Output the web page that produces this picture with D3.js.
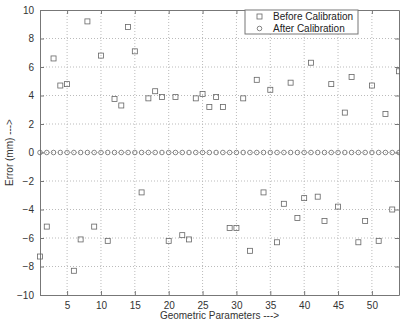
<!DOCTYPE html>
<html>
<head>
<meta charset="utf-8">
<script src="https://cdn.jsdelivr.net/npm/d3@7"></script>
<style>
  body { margin: 0; background: #fff; }
  text { font-family: Arial, "Liberation Sans", sans-serif; }
</style>
</head>
<body>
<div id="chart"></div>
<script>
// parameter index 1..54
var params = d3.range(1, 55);

// error before calibration (mm)
var before = [-7.3, -5.2, 6.6, 4.7, 4.8, -8.3, -6.1, 9.2, -5.2, 6.8,
              -6.2, 3.75, 3.3, 8.8, 7.1, -2.8, 3.8, 4.3, 3.9, -6.2,
              3.9, -5.8, -6.1, 3.8, 4.1, 3.2, 3.9, 3.2, -5.3, -5.3,
              3.8, -6.9, 5.1, -2.8, 4.4, -6.3, -3.6, 4.9, -4.6, -3.2,
              6.3, -3.1, -4.8, 4.8, -3.8, 2.8, 5.3, -6.3, -4.8, 4.7,
              -6.2, 2.7, -4.0, 5.7];

// error after calibration: all zero
var after = params.map(function() { return 0; });

var xTicks = [5, 10, 15, 20, 25, 30, 35, 40, 45, 50];
var yTicks = [-10, -8, -6, -4, -2, 0, 2, 4, 6, 8, 10];
var seriesNames = ["Before Calibration", "After Calibration"];

var margin = { top: 10, right: 1, bottom: 28, left: 40 };
var width = 400 - margin.left - margin.right;
var height = 323 - margin.top - margin.bottom;

var svg = d3.select("#chart").append("svg")
    .attr("width", 400)
    .attr("height", 323);

var g = svg.append("g")
    .attr("transform", "translate(" + margin.left + "," + margin.top + ")");

var x = d3.scaleLinear().domain([1, 54]).range([0, width]);
var y = d3.scaleLinear().domain([-10, 10]).range([height, 0]);

var axisCol = "#777";
var markCol = "#666";

// dotted grid
g.append("g").selectAll("line")
    .data(xTicks)
    .enter().append("line")
    .attr("x1", function(d) { return x(d); })
    .attr("x2", function(d) { return x(d); })
    .attr("y1", 0).attr("y2", height)
    .style("stroke", "#bbb")
    .style("stroke-dasharray", "1,2");

g.append("g").selectAll("line")
    .data(yTicks.slice(1, -1))
    .enter().append("line")
    .attr("y1", function(d) { return y(d); })
    .attr("y2", function(d) { return y(d); })
    .attr("x1", 0).attr("x2", width)
    .style("stroke", "#bbb")
    .style("stroke-dasharray", "1,2");

// axes, ticks pointing inside like matlab
var xAxis = g.append("g")
    .attr("transform", "translate(0," + height + ")")
    .call(d3.axisBottom(x).tickValues(xTicks).tickSizeInner(-4).tickSizeOuter(0).tickPadding(7));
var xTop = g.append("g")
    .call(d3.axisTop(x).tickValues(xTicks).tickSizeInner(-4).tickSizeOuter(0).tickFormat(""));
var yAxis = g.append("g")
    .call(d3.axisLeft(y).tickValues(yTicks).tickSizeInner(-4).tickSizeOuter(0).tickPadding(6));
var yRight = g.append("g")
    .attr("transform", "translate(" + width + ",0)")
    .call(d3.axisRight(y).tickValues(yTicks).tickSizeInner(-4).tickSizeOuter(0).tickFormat(""));

[xAxis, xTop, yAxis, yRight].forEach(function(a) {
    a.selectAll("path, line").style("stroke", axisCol);
    a.selectAll("text").style("font-size", "10px").style("fill", "#333");
});

// before calibration: squares
g.append("g").selectAll("rect")
    .data(before)
    .enter().append("rect")
    .attr("x", function(d, i) { return x(params[i]) - 2.5; })
    .attr("y", function(d) { return y(d) - 2.5; })
    .attr("width", 5)
    .attr("height", 5)
    .style("fill", "none")
    .style("stroke", markCol)
    .style("stroke-width", 0.8);

// after calibration: circles
g.append("g").selectAll("circle")
    .data(after)
    .enter().append("circle")
    .attr("cx", function(d, i) { return x(params[i]); })
    .attr("cy", function(d) { return y(d); })
    .attr("r", 2.3)
    .style("fill", "none")
    .style("stroke", markCol)
    .style("stroke-width", 0.8);

// legend
var leg = g.append("g").attr("transform", "translate(" + (245 - margin.left) + ",0)");
leg.append("rect")
    .attr("width", 113).attr("height", 24)
    .style("fill", "#fff")
    .style("stroke", axisCol);
leg.append("rect")
    .attr("x", 12).attr("y", 4)
    .attr("width", 5).attr("height", 5)
    .style("fill", "none").style("stroke", markCol).style("stroke-width", 0.8);
leg.append("circle")
    .attr("cx", 14.5).attr("cy", 18.5).attr("r", 2.3)
    .style("fill", "none").style("stroke", markCol).style("stroke-width", 0.8);
leg.selectAll("text.lbl")
    .data(seriesNames)
    .enter().append("text")
    .attr("class", "lbl")
    .attr("x", 28)
    .attr("y", function(d, i) { return 10 + i * 11.5; })
    .style("font-size", "10px")
    .style("fill", "#222")
    .text(function(d) { return d; });

// axis titles
svg.append("text")
    .attr("x", margin.left + width / 2)
    .attr("y", 319)
    .attr("text-anchor", "middle")
    .style("font-size", "10px")
    .style("fill", "#333")
    .text("Geometric Parameters --->");

svg.append("text")
    .attr("transform", "translate(13," + (margin.top + height / 2) + ") rotate(-90)")
    .attr("text-anchor", "middle")
    .style("font-size", "10px")
    .style("fill", "#333")
    .text("Error (mm) --->");
</script>
</body>
</html>
